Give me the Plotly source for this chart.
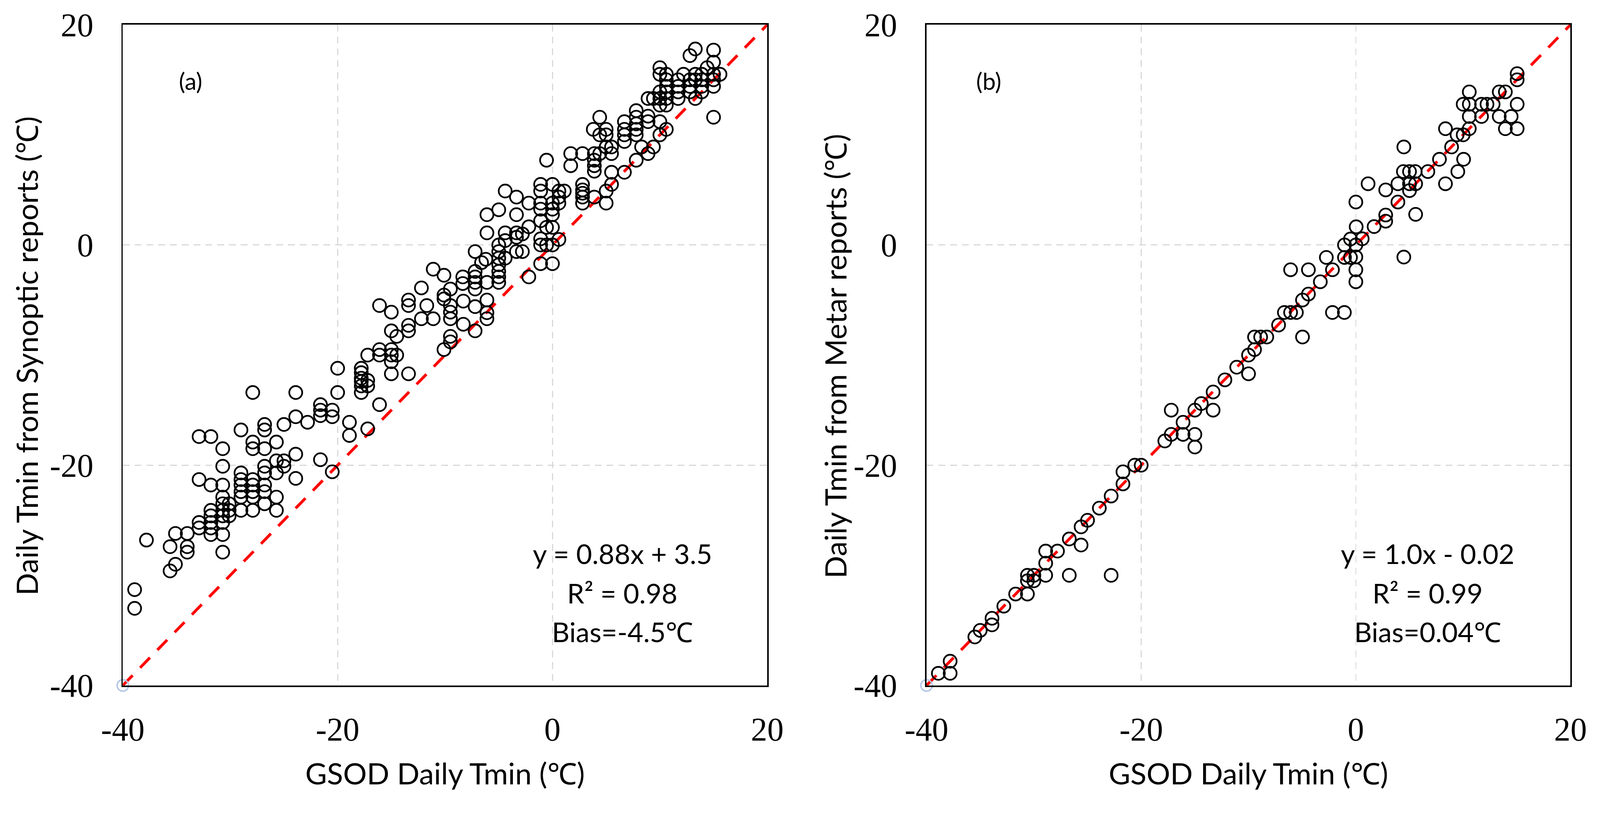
import plotly.graph_objects as go

# ---------------- data ----------------
# Panel (a): GSOD daily Tmin vs Tmin from Synoptic reports
syn_x = [
    -38.9, -38.9, -37.8, -35.6, -35.6, -35.1, -35.1, -34.0, -34.0, -34.0,
    -32.9, -31.8, -30.7, -30.7, -32.9, -31.8, -30.7,
    -32.9, -32.9,
    -31.8, -31.8, -31.8, -31.8, -31.8,
    -30.7, -30.7, -30.7, -30.7, -30.7, -30.7,
    -30.1, -30.1, -30.1,
    -30.7,
    -29.0,
    -29.0, -29.0, -29.0, -29.0, -29.0, -29.0,
    -27.9,
    -27.9, -27.9,
    -27.9, -27.9, -27.9, -27.9, -27.9,
    -26.8, -26.8, -26.8, -26.8, -26.8, -26.8, -26.8, -26.8,
    -25.7, -25.7, -25.7, -25.7, -25.7,
    -25.0, -25.0, -25.0,
    -23.9, -23.9, -23.9, -23.9,
    -22.8,
    -21.6, -21.6, -21.6, -21.6,
    -20.5, -20.5, -20.5,
    -20.0, -20.0,
    -18.9, -18.9,
    -17.2,
    -17.8, -17.8, -17.8, -17.8, -17.8, -17.8,
    -17.2, -17.2,
    -16.1, -16.1,
    -15.0, -15.0, -14.5,
    -16.1, -16.1,
    -15.0, -15.0, -15.0, -15.0,
    -14.5, -17.2,
    -13.4, -13.4, -13.4, -13.4, -13.4,
    -12.2, -12.2, -11.7, -11.1, -11.1,
    -10.1, -10.1, -10.1,
    -9.5, -9.5, -9.5, -9.5, -9.5, -9.5, -10.1,
    -8.35, -8.35, -8.3, -8.3,
    -7.2, -7.2, -7.2, -7.2, -7.2, -7.2, -7.2,
    -6.1, -6.1, -6.1, -6.1, -6.1, -6.1, -6.6, -6.2,
    -5.0, -5.0, -5.0, -5.0, -5.0, -5.0, -5.0, -5.0,
    -4.4, -4.4, -4.4, -4.4,
    -3.35, -3.35, -3.35, -3.35, -3.35,
    -2.8, -2.8,
    -2.2, -2.2, -2.2,
    -1.1, -1.1, -1.1, -1.1, -1.1, -1.1, -1.1, -1.1,
    -0.55, -0.55, -0.55,
    0.0, 0.0, 0.0, 0.0, 0.0, 0.0, 0.0,
    0.6, 0.6, 0.6, 0.6,
    1.1,
    1.7, 1.7,
    2.8, 2.8, 2.8, 2.8, 2.8, 2.8,
    3.9, 3.9, 3.9, 3.9, 3.9,
    4.4, 3.8, 5.0, 4.4, 5.0,
    5.0, 5.5, 5.5, 4.4,
    5.5, 5.5, 5.0, 5.0,
    6.7, 6.7, 6.7, 6.7, 6.7,
    7.8, 7.8, 7.8, 7.8, 7.8,
    8.9, 8.9, 8.3, 7.8, 8.9, 9.4,
    10.0, 10.0, 10.6,
    8.9, 9.4,
    10.0, 10.0, 10.0, 10.0, 10.0,
    10.6, 10.6, 10.6, 10.6, 10.6, 10.6,
    11.7, 11.7, 11.7, 11.7,
    12.2, 12.8, 13.3,
    12.8, 12.8, 12.8,
    13.3, 13.3, 13.3,
    13.9, 13.9, 13.9, 13.9,
    14.4,
    15.0, 15.0, 15.0, 15.0, 15.0, 15.0, 15.6,
]
syn_y = [
    -31.3, -33.0, -26.8, -29.6, -27.4, -29.0, -26.2, -26.2, -27.4, -27.9,
    -17.4, -17.4, -18.5, -20.1, -21.3, -21.8, -21.8,
    -25.2, -25.7,
    -24.1, -24.6, -25.2, -25.7, -26.3,
    -22.9, -23.5, -24.1, -24.6, -25.2, -26.3,
    -23.5, -24.1, -24.6,
    -27.9,
    -16.8,
    -20.7, -21.3, -21.8, -22.4, -22.9, -24.1,
    -13.4,
    -17.9, -18.5,
    -21.3, -21.8, -22.4, -22.9, -24.1,
    -16.3, -16.8, -18.5, -20.1, -20.7, -21.8, -22.4, -23.5,
    -17.9, -19.6, -20.7, -22.9, -24.1,
    -16.3, -19.6, -20.1,
    -13.4, -15.6, -19.0, -21.2,
    -16.1,
    -14.5, -15.0, -15.5, -19.5,
    -15.0, -15.6, -20.6,
    -11.2, -13.4,
    -16.1, -17.3,
    -16.7,
    -11.2, -11.6, -12.1, -12.4, -12.8, -13.4,
    -12.3, -12.8,
    -14.5, -5.5,
    -6.1, -7.8, -8.3,
    -9.5, -10.0,
    -9.5, -10.0, -10.6, -11.7,
    -10.0, -10.0,
    -11.7, -5.0, -5.5, -7.3, -7.8,
    -3.9, -6.7, -5.5, -6.7, -2.2,
    -2.75, -4.55, -4.9,
    -4.0, -5.5, -6.1, -6.7, -8.3, -8.8, -9.5,
    -2.9, -3.5, -7.2, -5.1,
    -0.6, -5.6, -2.4, -2.9, -3.4, -4.0, -7.8,
    2.75, 1.1, -5.0, -6.15, -6.7, -3.4, -1.6, -1.3,
    3.2, 0.0, -0.6, -1.2, -1.8, -2.4, -2.9, -3.4,
    4.9, 1.1, 0.4, -1.2,
    4.35, 2.75, 1.1, 0.7, -0.6,
    1.0, -0.6,
    3.8, -2.9, 1.65,
    5.5, 4.9, 3.8, 3.25, 2.2, 0.56, 0.0, -1.7,
    7.7, 1.6, 0.0,
    5.5, 3.8, 3.25, 2.75, 1.6, 0.0, -1.7,
    4.9, 4.35, 3.8, 0.5,
    4.9,
    8.3, 7.2,
    8.3, 5.5, 5.0, 4.7, 4.35, 3.8,
    8.3, 7.7, 7.2, 6.7, 4.35,
    11.6, 10.5, 10.5, 10.0, 10.0,
    8.9, 8.9, 8.3, 8.3,
    6.6, 5.5, 4.9, 3.8,
    11.2, 10.5, 10.0, 9.4, 6.6,
    12.2, 11.6, 11.0, 10.5, 10.0,
    11.7, 11.2, 8.9, 7.7, 8.3, 8.9,
    11.2, 10.0, 10.5,
    13.3, 13.3,
    12.7, 13.3, 13.9, 16.1, 15.5,
    15.5, 15.0, 14.4, 13.9, 12.7, 13.3,
    15.0, 14.4, 13.9, 13.3,
    15.5, 17.2, 17.8,
    15.0, 14.4, 13.9,
    15.5, 15.0, 13.3,
    15.5, 15.0, 14.4, 13.9,
    16.1,
    17.7, 16.6, 15.5, 15.0, 14.4, 11.6, 15.5,
]

# Panel (b): GSOD daily Tmin vs Tmin from Metar reports
met_x = [
    -38.9, -37.8, -37.8, -35.5, -35.0, -33.9, -33.9, -32.8, -31.7, -30.6,
    -30.6, -30.6, -30.0, -30.0, -28.9, -28.9, -28.9, -27.8, -26.7, -25.6,
    -25.6, -25.0, -23.9, -22.8, -21.7, -21.7, -20.6, -20.0, -26.7, -22.8,
    -17.8, -17.2, -17.2, -16.1, -16.1, -15.0, -15.0, -15.0, -14.4, -13.3,
    -13.3, -12.2, -11.1, -10.0, -10.0, -9.44, -9.44, -8.87, -8.3, -7.2,
    -6.66, -6.08, -5.54, -4.97, -4.97, -4.42, -6.08, -4.42, -3.31, -2.18,
    -2.75, -2.18, -1.07, -1.06, -0.5, -1.06, 0.03, 0.0, 0.0, 0.0,
    0.0, -0.5, 0.59, 0.0, 1.7, 2.78, 2.78, 1.14, 2.78, 3.92,
    3.92, 4.47, 4.47, 5.57, 4.43, 5.0, 5.53, 5.0, 5.0, 5.57,
    6.71, 7.79, 8.35, 8.35, 8.92, 9.43, 10.0, 9.5, 10.04, 10.57,
    10.0, 10.57, 10.57, 10.57, 11.71, 12.22, 12.79, 11.71, 13.36, 13.93,
    13.36, 14.47, 13.93, 15.03, 15.03, 15.03, 15.03,
]
met_y = [
    -38.9, -38.9, -37.8, -35.6, -35.0, -34.5, -33.9, -32.8, -31.7, -31.7,
    -30.0, -30.5, -30.0, -30.5, -30.0, -28.9, -27.8, -27.8, -26.7, -27.25,
    -25.6, -25.0, -23.9, -22.8, -21.7, -20.6, -20.0, -20.0, -30.0, -30.0,
    -17.8, -17.2, -15.0, -16.1, -17.2, -17.2, -18.35, -15.0, -14.4, -15.0,
    -13.35, -12.25, -11.1, -11.7, -10.0, -9.5, -8.36, -8.36, -8.36, -7.27,
    -6.13, -6.13, -6.13, -8.36, -5.0, -4.46, -2.25, -2.25, -3.34, -2.25,
    -1.13, -6.13, -6.13, -1.13, 0.54, 0.0, 1.65, 0.0, -1.09, -2.25,
    -3.34, -1.13, 0.56, 3.9, 1.67, 2.72, 2.16, 5.56, 5.0, 3.9,
    5.56, 8.9, -1.1, 2.78, 6.67, 6.67, 6.67, 5.56, 4.94, 5.56,
    6.67, 7.78, 5.56, 10.56, 8.9, 10.0, 10.0, 6.67, 7.78, 10.56,
    12.78, 12.78, 13.9, 11.67, 12.78, 12.78, 12.78, 11.67, 13.9, 13.9,
    11.67, 11.67, 10.56, 10.56, 12.78, 15.56, 15.0,
]

one_to_one = [-40, 20]
tick_vals = [-40, -20, 0, 20]
tick_text = ["-40", "-20", "0", "20"]

panel_labels = ["(a)", "(b)"]
stats_a = ["y = 0.88x + 3.5", "R² = 0.98", "Bias=-4.5"]
stats_b = ["y = 1.0x - 0.02", "R² = 0.99", "Bias=0.04"]
y_titles = ["Daily Tmin from Synoptic reports (", "Daily Tmin from Metar reports ("]
x_title = "GSOD Daily Tmin ("
DEG = "<span style=\"font-family:Liberation Serif\">℃</span>"

# ---------------- figure ----------------
W, H = 4204, 2116
SANS = "Lato"
SERIF = "Liberation Serif"

fig = go.Figure()

marker_style = dict(symbol="circle-open", size=34, color="black",
                    line=dict(width=4.5, color="black"))

for xs, ys, xa, ya in [(syn_x, syn_y, "x", "y"), (met_x, met_y, "x2", "y2")]:
    fig.add_trace(go.Scatter(x=one_to_one, y=one_to_one, mode="lines",
                             line=dict(color="#ff0000", width=7.5, dash="37px,28px"),
                             xaxis=xa, yaxis=ya, showlegend=False, hoverinfo="skip"))
    fig.add_trace(go.Scatter(x=xs, y=ys, mode="markers", marker=marker_style,
                             xaxis=xa, yaxis=ya, showlegend=False))
    fig.add_trace(go.Scatter(x=one_to_one[:1], y=one_to_one[:1], mode="markers",
                             marker=dict(symbol="circle-open", size=30, color="#b4c7e7",
                                         line=dict(width=4, color="#b4c7e7")),
                             cliponaxis=False, xaxis=xa, yaxis=ya, showlegend=False))

ydom = [1 - 1800 / H, 1 - 65 / H]
xdom1 = [322.7 / W, 2016 / W]
xdom2 = [2434.5 / W, 4126.5 / W]

axis_common = dict(
    range=[-40, 20], tickvals=tick_vals, ticktext=tick_text, automargin=False,
    showgrid=True, gridcolor="#d9d9d9", gridwidth=3, griddash="18px,13px",
    zeroline=False, showline=True, linecolor="black", linewidth=4, mirror=True,
    ticks="", tickfont=dict(family=SERIF, size=86, color="black"),
)

fig.update_layout(
    width=W, height=H, autosize=False,
    margin=dict(l=0, r=0, t=0, b=0, pad=0),
    paper_bgcolor="white", plot_bgcolor="white",
    xaxis=dict(domain=xdom1, anchor="y", ticklabelstandoff=38, **axis_common),
    yaxis=dict(domain=ydom, anchor="x", ticklabelstandoff=56, **axis_common),
    xaxis2=dict(domain=xdom2, anchor="y2", ticklabelstandoff=38, **axis_common),
    yaxis2=dict(domain=ydom, anchor="x2", ticklabelstandoff=56, **axis_common),
)

annotations = []
# axis titles
for i, (dom, ycx) in enumerate([(xdom1, 70), (xdom2, 2194)]):
    annotations.append(dict(
        text=x_title + DEG + ")", xref="paper", yref="paper",
        x=(dom[0] + dom[1]) / 2, y=1 - 2030 / H, showarrow=False,
        xanchor="center", yanchor="middle",
        font=dict(family=SANS, size=78, color="black")))
    annotations.append(dict(
        text=y_titles[i] + DEG + ")", xref="paper", yref="paper",
        x=ycx / W, y=1 - 935 / H, showarrow=False, textangle=-90,
        xanchor="center", yanchor="middle",
        font=dict(family=SANS, size=78, color="black")))

# panel labels and statistics
for i, (xr, yr, stats, lx, sx) in enumerate([
        ("x", "y", stats_a, -33.7, 6.5), ("x2", "y2", stats_b, -34.2, 6.7)]):
    annotations.append(dict(text=panel_labels[i], xref=xr, yref=yr, x=lx, y=14.9,
                            showarrow=False, font=dict(family=SANS, size=62, color="black")))
    for j, (txt, yy) in enumerate(zip(stats, [-28.0, -31.6, -35.1])):
        if j == 2:
            txt = txt + DEG
        annotations.append(dict(text=txt, xref=xr, yref=yr, x=sx, y=yy,
                                showarrow=False, xanchor="center", yanchor="middle",
                                font=dict(family=SANS, size=72, color="black")))

fig.update_layout(annotations=annotations)

fit_script = """
document.documentElement.style.margin='0';
document.body.style.margin='0';
document.body.style.overflow='hidden';
var gd = document.getElementById('{plot_id}');
var s = Math.min(window.innerWidth / %d, window.innerHeight / %d);
if (s < 1) { gd.style.transformOrigin = '0 0'; gd.style.transform = 'scale(' + s + ')'; }
""" % (W, H)

fig.write_html("out.html", config={"displayModeBar": False}, post_script=fit_script)
